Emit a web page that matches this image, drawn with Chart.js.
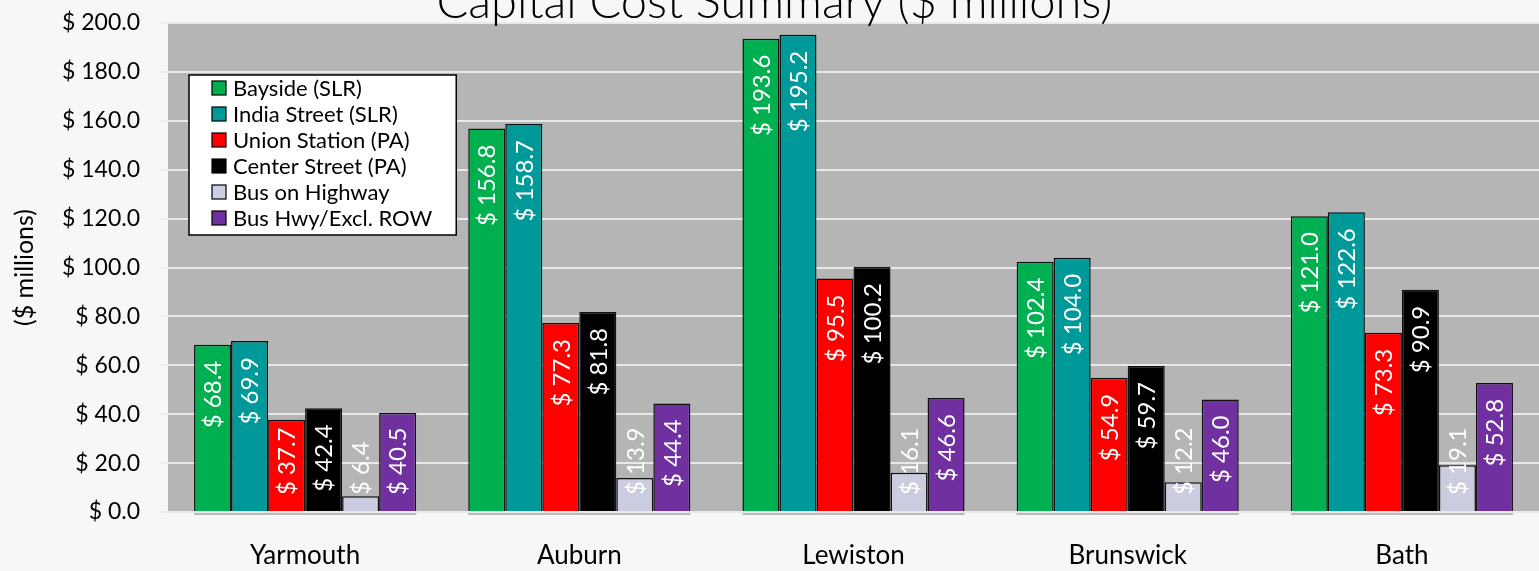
<!DOCTYPE html>
<html>
<head>
<meta charset="utf-8">
<script src="https://cdn.jsdelivr.net/npm/chart.js@4/dist/chart.umd.min.js"></script>
<style>
  html, body { margin: 0; padding: 0; background: #f7f7f7; }
  #wrap { width: 1539px; height: 571px; }
</style>
</head>
<body>
<div id="wrap"><canvas id="costos"></canvas></div>
<script>
// datos
const categories = ["Yarmouth", "Auburn", "Lewiston", "Brunswick", "Bath"];
const seriesNames = ["Bayside (SLR)", "India Street (SLR)", "Union Station (PA)", "Center Street (PA)", "Bus on Highway", "Bus Hwy/Excl. ROW"];
const bayside      = [68.4, 156.8, 193.6, 102.4, 121.0];
const indiaStreet  = [69.9, 158.7, 195.2, 104.0, 122.6];
const unionStation = [37.7, 77.3, 95.5, 54.9, 73.3];
const centerStreet = [42.4, 81.8, 100.2, 59.7, 90.9];
const busHighway   = [6.4, 13.9, 16.1, 12.2, 19.1];
const busExclRow   = [40.5, 44.4, 46.6, 46.0, 52.8];
const chartTitle = "Capital Cost Summary ($ millions)";
const yTitle = "($ millions)";

const colores = ["#00b050", "#009999", "#ff0000", "#000000", "#cccce0", "#7030a0"];
const valores = [bayside, indiaStreet, unionStation, centerStreet, busHighway, busExclRow];
const fuente = "Lato, 'Open Sans', sans-serif";

function dinero(v) { return "$ " + Number(v).toFixed(1); }

// fondo de la pagina y del area de trazado
const fondo = {
  id: "fondo",
  beforeDraw(chart) {
    const ctx = chart.ctx, a = chart.chartArea;
    ctx.save();
    ctx.fillStyle = "#f7f7f7";
    ctx.fillRect(0, 0, chart.width, chart.height);
    ctx.fillStyle = "#b5b5b5";
    ctx.fillRect(a.left, a.top, a.right - a.left, a.bottom - a.top);
    ctx.restore();
  }
};

// etiquetas verticales dentro de las barras
const etiquetas = {
  id: "etiquetas",
  afterDatasetsDraw(chart) {
    const ctx = chart.ctx;
    ctx.save();
    ctx.font = "24px " + fuente;
    ctx.fillStyle = "#ffffff";
    ctx.textBaseline = "middle";
    chart.data.datasets.forEach((ds, i) => {
      const meta = chart.getDatasetMeta(i);
      meta.data.forEach((bar, j) => {
        const txt = dinero(ds.data[j]);
        const w = ctx.measureText(txt).width;
        let fin = bar.y + 16;
        let inicio = fin + w;
        if (inicio > bar.base - 16) { inicio = bar.base - 16; }
        ctx.save();
        ctx.translate(bar.x, inicio);
        ctx.rotate(-Math.PI / 2);
        ctx.textAlign = "left";
        ctx.fillText(txt, 0, 1);
        ctx.restore();
      });
    });
    ctx.restore();
  }
};

// titulo cortado arriba, linea del eje y leyenda dentro del area
const extras = {
  id: "extras",
  afterDraw(chart) {
    const ctx = chart.ctx, a = chart.chartArea;
    ctx.save();
    ctx.font = "300 47px " + fuente;
    ctx.fillStyle = "#000";
    ctx.textAlign = "center";
    ctx.textBaseline = "alphabetic";
    ctx.fillText(chartTitle, chart.width / 2 + 5, 18);

    // linea del eje bajo cada grupo
    const primero = chart.getDatasetMeta(0).data;
    const ultimo = chart.getDatasetMeta(valores.length - 1).data;
    ctx.strokeStyle = "#a6a6a6";
    ctx.lineWidth = 1.5;
    primero.forEach((b, j) => {
      const u = ultimo[j];
      ctx.beginPath();
      ctx.moveTo(b.x - b.width / 2, a.bottom + 2);
      ctx.lineTo(u.x + u.width / 2, a.bottom + 2);
      ctx.stroke();
    });

    // leyenda
    ctx.font = "22px " + fuente;
    let ancho = 0;
    seriesNames.forEach(n => { ancho = Math.max(ancho, ctx.measureText(n).width); });
    const x0 = a.left + 21, y0 = a.top + 52;
    const w = 44 + ancho + 24, h = 160;
    ctx.fillStyle = "#ffffff";
    ctx.fillRect(x0, y0, w, h);
    ctx.strokeStyle = "#000";
    ctx.lineWidth = 1.5;
    ctx.strokeRect(x0, y0, w, h);
    ctx.textAlign = "left";
    ctx.textBaseline = "middle";
    seriesNames.forEach((n, i) => {
      const cy = y0 + 13 + i * 26;
      ctx.fillStyle = colores[i];
      ctx.fillRect(x0 + 23, cy - 7, 14, 14);
      ctx.strokeStyle = "#000";
      ctx.lineWidth = 1.2;
      ctx.strokeRect(x0 + 23, cy - 7, 14, 14);
      ctx.fillStyle = "#000";
      ctx.fillText(n, x0 + 44, cy + 1);
    });
    ctx.restore();
  }
};

let grafica = document.getElementById("costos").getContext("2d");
var chart = new Chart(grafica, {
  type: "bar",
  data: {
    labels: categories,
    datasets: seriesNames.map((n, i) => ({
      label: n,
      data: valores[i],
      backgroundColor: colores[i],
      borderColor: "#111",
      borderWidth: 1.5,
      categoryPercentage: 0.81,
      barPercentage: 1.0
    }))
  },
  options: {
    responsive: true,
    maintainAspectRatio: false,
    animation: false,
    layout: { padding: { top: 23, right: 0, left: 0, bottom: 0 } },
    plugins: {
      legend: { display: false },
      title: { display: false },
      tooltip: { enabled: false }
    },
    scales: {
      x: {
        grid: { display: false, drawTicks: false },
        border: { display: false },
        ticks: { color: "#000", font: { family: fuente, size: 26 }, padding: 28 },
        afterFit(s) { s.height = 59; s.paddingLeft = 0; s.paddingRight = 0; }
      },
      y: {
        min: 0,
        max: 200,
        border: { display: false },
        grid: { color: "#e8e8e8", lineWidth: 2, tickLength: 8, tickColor: "#eeeeee" },
        ticks: { stepSize: 20, color: "#000", padding: 20, font: { family: fuente, size: 23 }, callback: v => dinero(v) },
        title: { display: true, text: yTitle, color: "#000", font: { family: fuente, size: 25 }, padding: { top: 10, bottom: 0 } },
        afterFit(s) { s.width = 168; s.paddingTop = 0; s.paddingBottom = 0; }
      }
    }
  },
  plugins: [fondo, etiquetas, extras]
});
</script>
</body>
</html>
